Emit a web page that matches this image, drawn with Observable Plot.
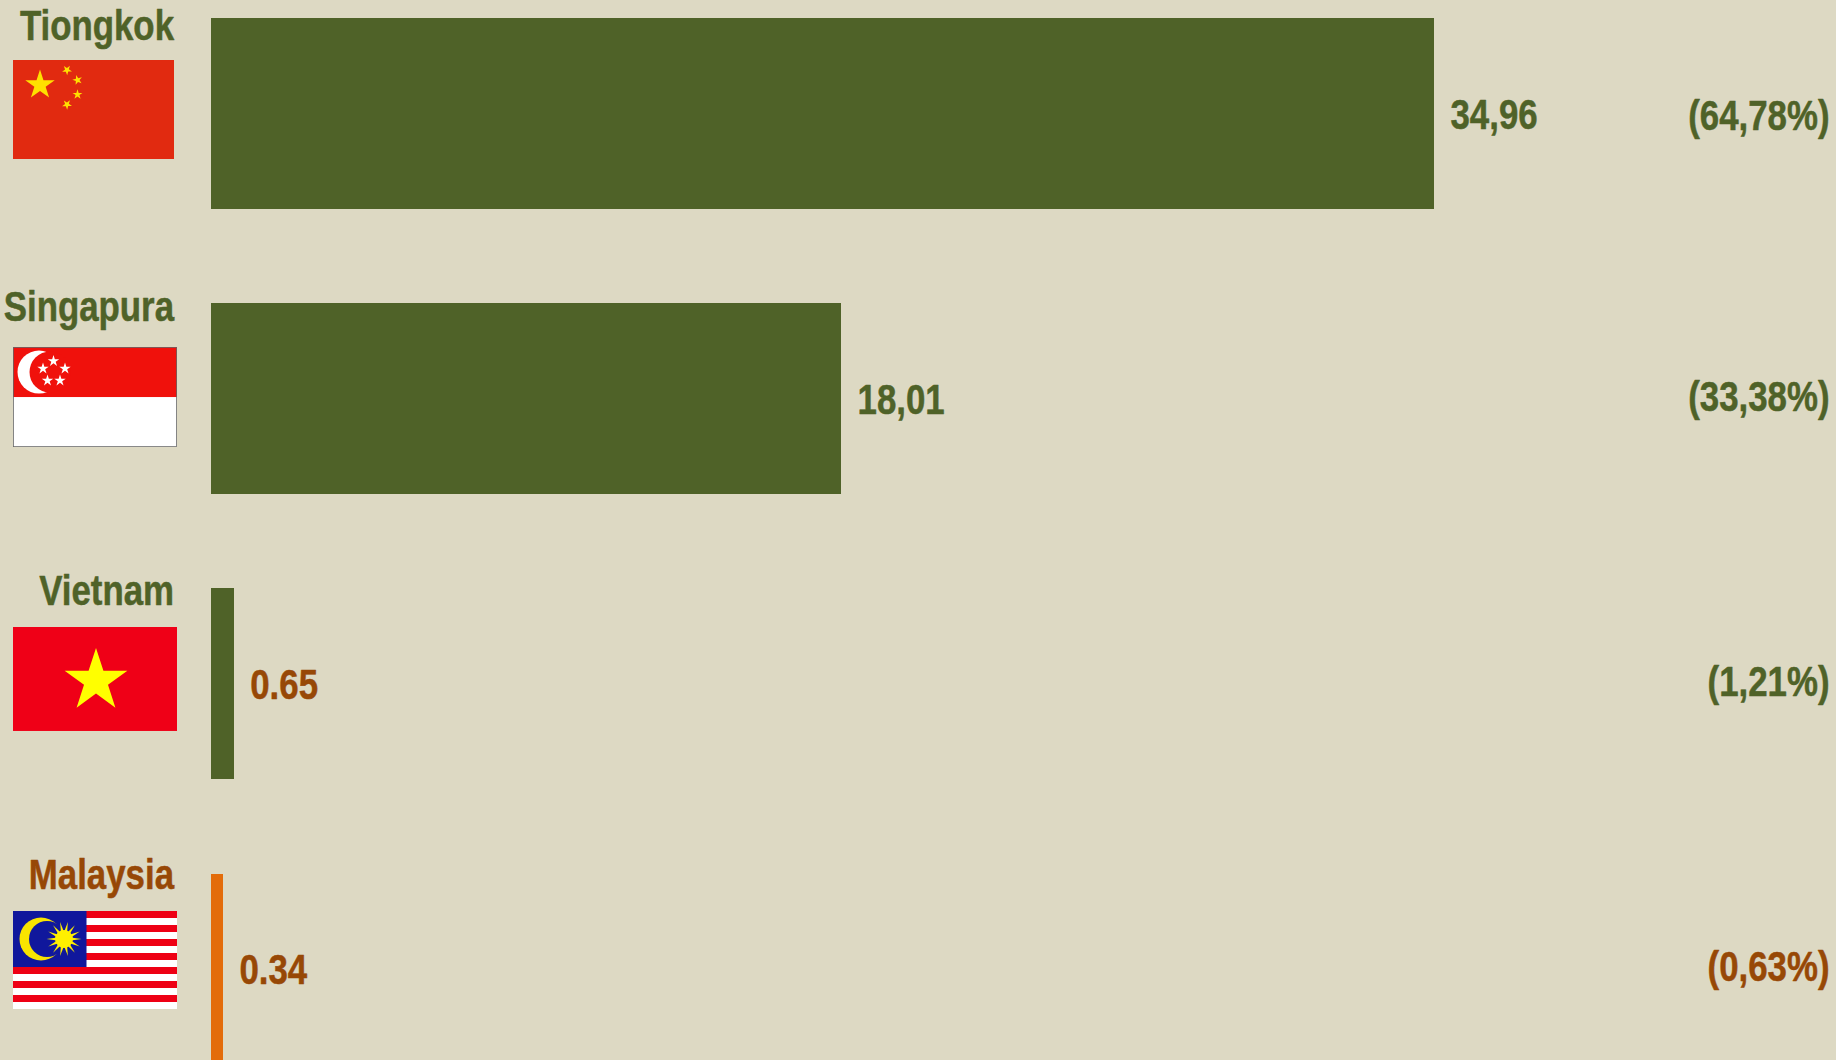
<!DOCTYPE html>
<html><head><meta charset="utf-8">
<script src="https://cdn.jsdelivr.net/npm/d3@7"></script>
<script src="https://cdn.jsdelivr.net/npm/@observablehq/plot@0.6"></script>
<style>html,body{margin:0;padding:0;background:#DDD9C3;overflow:hidden}svg{display:block;max-width:none}</style>
</head><body><div id="chart"></div>
<script>
const countries = ["Tiongkok","Singapura","Vietnam","Malaysia"];
const values = [34.96,18.01,0.65,0.34];
const valueLabels = ["34,96","18,01","0.65","0.34"];
const shareLabels = ["(64,78%)","(33,38%)","(1,21%)","(0,63%)"];

const GREEN="#4F6228", BROWN="#974806", ORANGE="#E36C0A", BG="#DDD9C3";
const barColors=[GREEN,GREEN,GREEN,ORANGE];
const nameColors=[GREEN,GREEN,GREEN,BROWN];
const valueColors=[GREEN,GREEN,BROWN,BROWN];
const shareColors=[GREEN,GREEN,GREEN,BROWN];

function star(cx,cy,r,rot=0,ratio=0.382){
  let p=[];for(let i=0;i<10;i++){const a=-Math.PI/2+rot+i*Math.PI/5,q=i%2?r*ratio:r;p.push((cx+q*Math.cos(a)).toFixed(2)+","+(cy+q*Math.sin(a)).toFixed(2));}
  return p.join(" ");
}
function svgUri(w,h,body){
  return "data:image/svg+xml,"+encodeURIComponent(`<svg xmlns="http://www.w3.org/2000/svg" width="${w}" height="${h}" viewBox="0 0 ${w} ${h}">${body}</svg>`);
}
const flagCN=svgUri(161,99,`<rect width="161" height="99" fill="#E12A10"/>
<polygon points="${star(27,25,15.5)}" fill="#FFE000"/>
<polygon points="${star(54,10,5.2,0.6)}" fill="#FFE000"/>
<polygon points="${star(64.5,20,5.2,1.0)}" fill="#FFE000"/>
<polygon points="${star(64.5,34.5,5.2,0)}" fill="#FFE000"/>
<polygon points="${star(54,44.5,5.2,0.6)}" fill="#FFE000"/>`);
const flagSG=svgUri(164,100,`<rect width="164" height="100" fill="#fff"/><rect width="164" height="50" fill="#F0110C"/>
<circle cx="26" cy="25" r="21.5" fill="#fff"/><circle cx="37" cy="25" r="20.5" fill="#F0110C"/>
<polygon points="${star(40.5,14,6)}" fill="#fff"/><polygon points="${star(52,21.5,6)}" fill="#fff"/>
<polygon points="${star(30,21.5,6)}" fill="#fff"/><polygon points="${star(34.5,33.5,6)}" fill="#fff"/>
<polygon points="${star(47,33.5,6)}" fill="#fff"/>
<rect x=".4" y=".4" width="163.2" height="99.2" fill="none" stroke="#666" stroke-width=".8"/>`);
const flagVN=svgUri(164,104,`<rect width="164" height="104" fill="#EF0017"/><polygon points="${star(83,54,33)}" fill="#FFFF00"/>`);
let stripes="";for(let i=0;i<14;i++){stripes+=`<rect y="${i*7}" width="164" height="7" fill="${i%2?"#fff":"#EE0014"}"/>`;}
let rays="";for(let i=0;i<14;i++){const a=i*Math.PI/7;const ox=51,oy=28;
  rays+=`<polygon points="${ox+17.5*Math.cos(a)},${oy+17.5*Math.sin(a)} ${ox+7*Math.cos(a+.22)},${oy+7*Math.sin(a+.22)} ${ox+7*Math.cos(a-.22)},${oy+7*Math.sin(a-.22)}" fill="#FFF000"/>`;}
const flagMY=svgUri(164,98,`${stripes}<rect width="73.5" height="56" fill="#10179C"/>
<circle cx="28" cy="28" r="21.5" fill="#F9E400"/><circle cx="34" cy="28" r="18" fill="#10179C"/>
<circle cx="51" cy="28" r="9" fill="#FFF000"/>${rays}`);
const flags=[flagCN,flagSG,flagVN,flagMY];

// page layout, kept apart from the data
const layout={
  flagW:[161,164,164,164], flagH:[99,100,104,98], flagDy:[-4.5,-2.3,-5.7,-10],
  nameDy:[-87.8,-92.6,-93.5,-94.8], valueDy:[1.5,0.5,0.5,0.5], shareDy:[2,-2,-2,-3]
};

const table=countries.map((c,i)=>({c,v:values[i],vl:valueLabels[i],sl:shareLabels[i],i}));
const font='"Liberation Sans",Arial,sans-serif';
const FS=43;
const SQUEEZE=0.81;
const textBase={fontSize:FS,fontWeight:"bold",fontFamily:font,strokeWidth:0.5};

const marks=[
  Plot.barX(table,{x:"v",y:"c",fill:d=>barColors[d.i],dx:-0.2,dy:-0.2,shapeRendering:"crispEdges"}),
];
table.forEach((d,i)=>{
  marks.push(Plot.image([d],{y:"c",frameAnchor:"left",src:()=>flags[i],
    width:layout.flagW[i],height:layout.flagH[i],preserveAspectRatio:"none",
    dx:12.5+layout.flagW[i]/2,dy:layout.flagDy[i]}));
});
table.forEach((d,i)=>{
  marks.push(Plot.text([d],{y:"c",text:"c",frameAnchor:"left",textAnchor:"end",dx:173.5,dy:layout.nameDy[i],
    fill:nameColors[i],stroke:nameColors[i],...textBase}));
  marks.push(Plot.text([d],{x:"v",y:"c",text:"vl",textAnchor:"start",dx:16,dy:layout.valueDy[i],
    fill:valueColors[i],stroke:valueColors[i],...textBase}));
  marks.push(Plot.text([d],{y:"c",text:"sl",frameAnchor:"right",textAnchor:"end",dx:-7,dy:layout.shareDy[i],
    fill:shareColors[i],stroke:shareColors[i],...textBase}));
});

const chart=Plot.plot({
  width:1836,height:1060,margin:0,
  style:{background:BG,overflow:"hidden"},
  x:{domain:[0,34.96],range:[211,1434],axis:null},
  y:{domain:countries,range:[18,1065],paddingInner:0.3306,paddingOuter:0,align:0,round:false,axis:null},
  marks
});
document.getElementById("chart").appendChild(chart);
// Reference type is Arial Bold condensed horizontally
d3.select(chart).selectAll("text").each(function(){
  const t=this.getAttribute("transform")||"";
  this.setAttribute("transform",t+` scale(${SQUEEZE},1)`);
});
</script></body></html>
